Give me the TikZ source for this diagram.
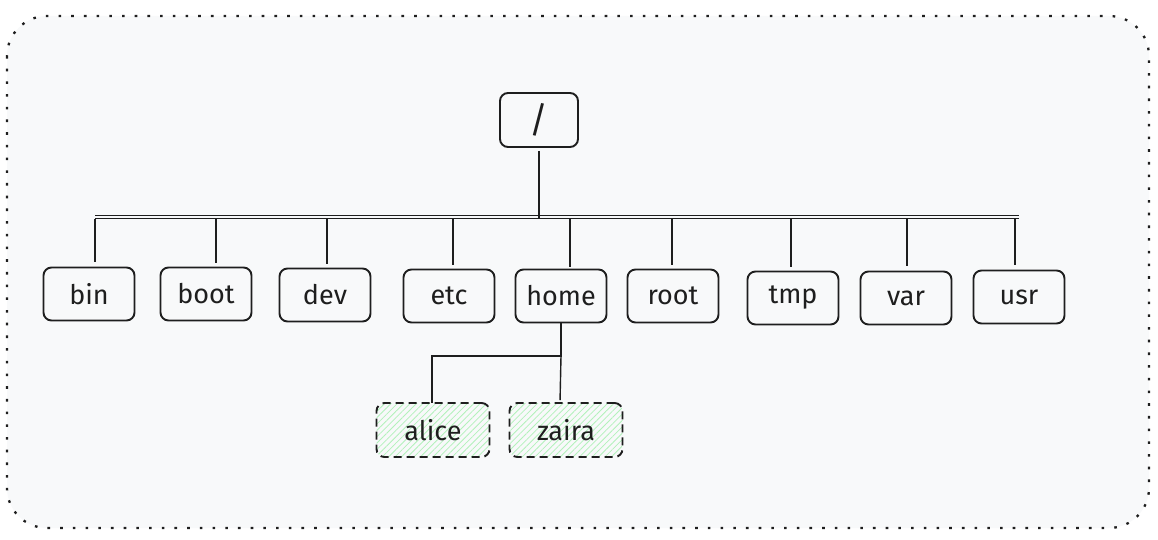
\documentclass[tikz,border=0pt]{standalone}
\usepackage{fontspec}
\setmainfont{Fira Sans}
\usetikzlibrary{patterns.meta}
\definecolor{ink}{HTML}{1E1E1E}
\definecolor{bg}{HTML}{F8F9FA}
\definecolor{hatch}{HTML}{B2F2BB}
\tikzset{
  dirbox/.style={draw=ink, line width=1.9pt, rounded corners=8pt,
    minimum width=91pt, minimum height=53pt, inner sep=0pt,
    font=\fontsize{27}{32}\selectfont, text=ink},
  userbox/.style={dirbox, minimum width=113pt, minimum height=54pt,
    dash pattern=on 8pt off 5pt,
    pattern={Lines[angle=45,distance=4.5pt,line width=0.8pt]}, pattern color=hatch},
  link/.style={draw=ink, line width=1.7pt},
}
\begin{document}
\begin{tikzpicture}[x=1pt,y=-1pt]
\useasboundingbox (0,0) rectangle (1158,540);
\draw[fill=bg, draw=ink, line width=2.3pt, dash pattern=on 2.6pt off 10.1pt, rounded corners=40pt]
  (7,16) rectangle (1149,528);

\node[dirbox, minimum width=78pt, minimum height=54pt, font=\fontsize{36}{40}\selectfont] (root) at (539,120) {/};

\node[dirbox] (bin)  at (89,294)  {bin};
\node[dirbox] (boot) at (206,294) {boot};
\node[dirbox] (dev)  at (325,295) {dev};
\node[dirbox] (etc)  at (449,296) {etc};
\node[dirbox] (home) at (561,296) {home};
\node[dirbox] (rootd) at (673,296) {root};
\node[dirbox] (tmp)  at (793,298) {tmp};
\node[dirbox] (var)  at (906,298) {var};
\node[dirbox] (usr)  at (1019,297) {usr};

\node[userbox] (alice) at (433,430) {alice};
\node[userbox] (zaira) at (566,430) {zaira};

\coordinate (busL) at (95,218.5);
\coordinate (busR) at (1019,218.5);
\coordinate (hsplit) at (561,356);

% bus
\draw[link, line width=1.8pt] (busL) -- (busR);
\draw[ink, line width=0.9pt] ([yshift=2.6pt]busL) -- ([yshift=2.6pt]busR);

% root to bus
\draw[link, shorten <=3pt] (root.south) -- (root.south |- busL);

% drops
\draw[link, shorten <=5pt] ([xshift=6pt]bin.north)  -- ([xshift=6pt]bin.north |- busL);
\draw[link, shorten <=4pt] ([xshift=10pt]boot.north) -- ([xshift=10pt]boot.north |- busL);
\draw[link, shorten <=4pt] ([xshift=2pt]dev.north)  -- ([xshift=2pt]dev.north |- busL);
\draw[link, shorten <=4pt] ([xshift=4pt]etc.north)  -- ([xshift=4pt]etc.north |- busL);
\draw[link, shorten <=2pt] ([xshift=9pt]home.north) -- ([xshift=9pt]home.north |- busL);
\draw[link, shorten <=4pt] ([xshift=-1pt]rootd.north) -- ([xshift=-1pt]rootd.north |- busL);
\draw[link, shorten <=4pt] ([xshift=-2pt]tmp.north)  -- ([xshift=-2pt]tmp.north |- busL);
\draw[link, shorten <=5pt] ([xshift=1pt]var.north)  -- ([xshift=1pt]var.north |- busL);
\draw[link, shorten <=5pt] ([xshift=-4pt]usr.north)  -- ([xshift=-4pt]usr.north |- busL);

% home to children
\draw[ink, line width=1.4pt] (home.south) -- (hsplit) -| ([xshift=-1pt]alice.north);
\draw[ink, line width=1.4pt, shorten >=2pt] (hsplit) -- ([xshift=-6pt]zaira.north);
\end{tikzpicture}
\end{document}
